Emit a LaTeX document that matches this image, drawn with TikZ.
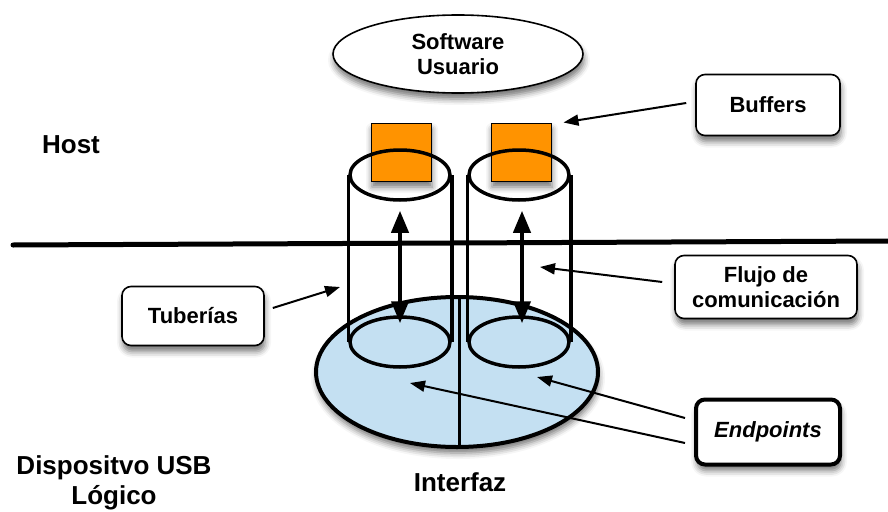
\documentclass[tikz,border=0pt]{standalone}
\usepackage{fontspec}
\setmainfont{Liberation Sans}
\usetikzlibrary{shapes.geometric,arrows.meta,shadows.blur}
\definecolor{bufferorange}{RGB}{255,147,0}
\definecolor{ifaceblue}{RGB}{196,224,242}

\begin{document}
\begin{tikzpicture}[x=1pt,y=-1pt,
  softshadow/.style={blur shadow={shadow xshift=1pt,shadow yshift=-6pt,shadow blur radius=6pt,shadow opacity=55}},
  labelbox/.style={rectangle,draw,line width=1.6pt,rounded corners=9pt,fill=white,softshadow,
    align=center,inner sep=0pt,font=\fontsize{22}{25}\selectfont\bfseries},
  freetext/.style={align=center,font=\fontsize{26}{30}\selectfont\bfseries},
  pointer/.style={line width=2pt,-{Triangle[length=15pt,width=11pt]}},
  flow/.style={line width=4pt,{Triangle[length=22pt,width=17pt]}-{Triangle[length=22pt,width=17pt]}},
  pipeend/.style={ellipse,draw,line width=3.5pt,minimum width=100pt,minimum height=50pt,inner sep=0pt},
  buffer/.style={rectangle,draw,line width=1pt,fill=bufferorange,minimum width=60pt,minimum height=58pt,inner sep=0pt,softshadow},
  pipeside/.style={line width=3.5pt},
]
\useasboundingbox (0,0) rectangle (888,511);

% interface with its two endpoints
\node[ellipse,draw,line width=4pt,fill=ifaceblue,minimum width=282pt,minimum height=150pt,softshadow] (iface) at (457,372) {};
\draw[line width=3pt] ([xshift=2pt]iface.north) -- ([xshift=2pt]iface.south);
\node[pipeend] (lowL) at (400,342) {};
\node[pipeend] (lowR) at (519,342) {};

% pipes
\node[pipeend,draw=none] (topL) at (400,175) {};
\node[pipeend,draw=none] (topR) at (519,175) {};
\draw[pipeside] (topL.west) -- (lowL.west);
\draw[pipeside] (topL.east) -- (lowL.east);
\draw[pipeside] (topR.west) -- (lowR.west);
\draw[pipeside] (topR.east) -- (lowR.east);

% host / device separator
\coordinate (sepL) at (13,245);
\coordinate (sepR) at (890,241);
\draw[line width=5pt,line cap=round] (sepL) -- (sepR);

% buffers on top of the pipes
\node[buffer] (bufL) at (401,152) {};
\node[buffer] (bufR) at (521,152) {};
\node[pipeend] at (topL) {};
\node[pipeend] at (topR) {};

% data flow inside each pipe
\draw[flow] ([yshift=-9pt]topL.south) -- ([yshift=-8pt]lowL.north);
\draw[flow] ([xshift=3pt,yshift=-9pt]topR.south) -- ([xshift=3pt,yshift=-8pt]lowR.north);

% user software
\node[ellipse,draw,line width=1.6pt,fill=white,minimum width=250pt,minimum height=78pt,inner sep=0pt,softshadow,
  align=center,font=\fontsize{22}{25}\selectfont\bfseries] (sw) at (458,54) {Software\\Usuario};

% callout boxes
\node[labelbox,minimum width=144pt,minimum height=61pt] (buffers) at (768,105) {Buffers};
\node[labelbox,minimum width=182pt,minimum height=63pt] (flujo) at (766,287) {Flujo de\\comunicación};
\node[labelbox,minimum width=142pt,minimum height=59pt] (tuberias) at (193,316) {Tuberías};
\node[labelbox,line width=4pt,minimum width=144pt,minimum height=65pt,font=\fontsize{22}{25}\selectfont\bfseries\itshape] (endpoints) at (768,432) {Endpoints};

% free labels
\node[freetext] (host) at (71,145) {Host};
\node[freetext] (device) at (114,483) {Dispositvo USB\\Lógico};
\node[freetext] (interfaz) at (460,482) {Interfaz};

% callout pointers
\coordinate (bufTip) at ([xshift=12pt]bufR.north east);
\coordinate (flujoTip) at (540,267);
\coordinate (tubTip) at (340,287);
\coordinate (epTipR) at (537,377);
\coordinate (epTipL) at (410,383);
\draw[pointer] ([xshift=-9pt,yshift=2pt]buffers.west) -- (bufTip);
\draw[pointer] ([xshift=-12pt,yshift=5pt]flujo.west) -- (flujoTip);
\draw[pointer] ([xshift=8pt,yshift=8pt]tuberias.east) -- (tubTip);
\draw[pointer] ([xshift=-9pt,yshift=14pt]endpoints.west) -- (epTipR);
\draw[pointer] ([xshift=-9pt,yshift=-11pt]endpoints.west) -- (epTipL);
\end{tikzpicture}
\end{document}
